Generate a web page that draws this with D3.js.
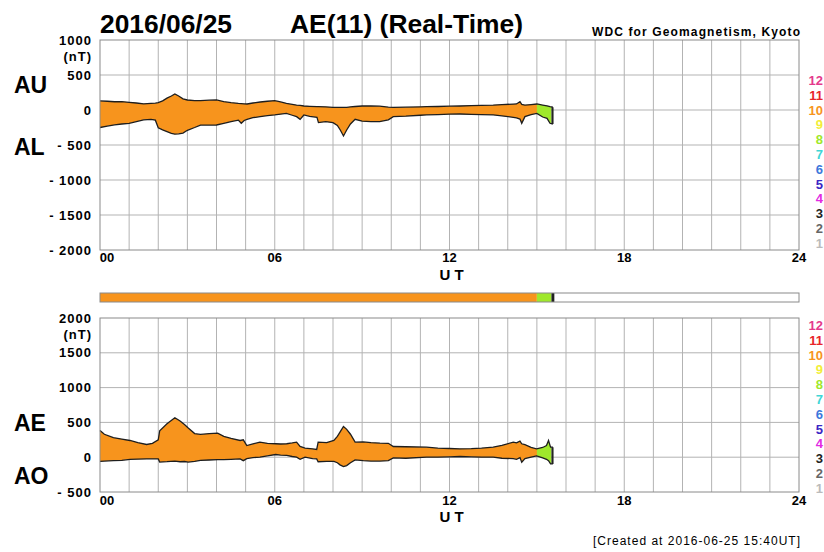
<!DOCTYPE html>
<html>
<head>
<meta charset="utf-8">
<script src="https://cdn.jsdelivr.net/npm/d3@7/dist/d3.min.js"></script>
<style>
  body { margin: 0; background: #fff; }
  svg text { font-family: "Liberation Sans", Arial, Helvetica, sans-serif; }
</style>
</head>
<body>
<svg id="vis" width="824" height="552"></svg>
<script>
// ---- data (hours UT, nT) ----
var hoursTop = [0.00, 0.25, 0.50, 0.75, 1.00, 1.25, 1.50, 1.75, 1.90, 2.00, 2.15, 2.30, 2.45, 2.57, 2.70, 2.85, 3.00, 3.25, 3.45, 3.75,
  4.00, 4.25, 4.50, 4.75, 4.85, 4.95, 5.05, 5.25, 5.50, 5.75, 6.00, 6.20, 6.40, 6.60, 6.75, 6.87, 7.00, 7.20, 7.45, 7.50,
  7.75, 8.00, 8.15, 8.25, 8.36, 8.47, 8.60, 8.76, 9.00, 9.30, 9.60, 9.90, 10.07, 10.50, 11.00, 11.21, 11.60, 12.00, 12.36, 12.75,
  13.10, 13.50, 13.80, 14.19, 14.30, 14.42, 14.48, 14.59, 14.80, 15.00, 15.20, 15.35, 15.45, 15.55];
var auValues = [130, 125, 118, 120, 110, 100, 88, 95, 98, 105, 130, 170, 200, 229, 200, 160, 143, 135, 133, 140,
  143, 120, 105, 95, 92, 88, 86, 100, 114, 125, 133, 115, 95, 80, 70, 65, 57, 52, 48, 48,
  45, 38, 38, 38, 38, 38, 45, 50, 57, 57, 55, 40, 38, 40, 45, 48, 50, 55, 57, 62,
  66, 71, 78, 84, 86, 119, 80, 71, 78, 86, 71, 60, 48, 40];
var alValues = [-250, -230, -212, -200, -190, -165, -140, -135, -145, -255, -285, -310, -335, -345, -340, -330, -290, -250, -215, -215,
  -214, -190, -165, -145, -190, -150, -133, -110, -95, -80, -71, -60, -48, -75, -95, -133, -71, -90, -105, -180,
  -167, -181, -220, -286, -371, -286, -200, -133, -160, -167, -167, -140, -95, -88, -75, -71, -65, -60, -57, -62,
  -66, -71, -85, -105, -112, -130, -190, -95, -65, -48, -100, -119, -190, -200];

var hoursBottom = [0.00, 0.15, 0.46, 0.75, 1.03, 1.30, 1.60, 1.80, 2.00, 2.05, 2.30, 2.57, 2.75, 2.90, 3.03, 3.25, 3.45, 3.75, 4.04, 4.25,
  4.50, 4.81, 4.92, 5.04, 5.25, 5.49, 5.75, 6.03, 6.20, 6.41, 6.60, 6.75, 6.87, 7.04, 7.30, 7.44, 7.49, 7.78, 8.03, 8.15,
  8.24, 8.36, 8.47, 8.60, 8.76, 9.04, 9.30, 9.61, 9.90, 10.07, 10.50, 11.21, 11.60, 12.00, 12.36, 12.75, 13.10, 13.50, 13.80, 14.19,
  14.30, 14.42, 14.48, 14.59, 14.80, 14.99, 15.20, 15.33, 15.40, 15.47, 15.55];
var aeValues = [384, 330, 280, 260, 240, 210, 183, 200, 250, 380, 480, 567, 520, 470, 420, 340, 327, 340, 346, 300,
  270, 240, 250, 168, 190, 216, 200, 193, 190, 193, 205, 216, 154, 130, 120, 111, 216, 210, 240, 300,
  360, 442, 400, 330, 216, 220, 210, 202, 200, 154, 150, 144, 130, 125, 121, 122, 130, 144, 170, 216,
  205, 230, 193, 180, 140, 121, 140, 168, 240, 144, 144];
var aoValues = [-60, -55, -50, -45, -30, -28, -25, -25, -25, -70, -65, -57, -65, -62, -70, -60, -45, -40, -35, -35,
  -30, -25, -50, -20, -5, 0, 20, 39, 30, 25, 10, 0, -30, 0, -20, -25, -65, -60, -60, -80,
  -110, -134, -120, -80, -38, -50, -55, -55, -50, -9, -15, 0, 0, 5, 10, 5, 0, 0, -15, -20,
  -30, -5, -72, -20, 0, 19, -10, -30, -50, -96, -96];

// number of stations used, by time span
var segStart = [0, 15.0, 15.5];
var segEnd = [15.0, 15.5, 15.6];
var segStations = [10, 8, 3];

var stationLevels = [12, 11, 10, 9, 8, 7, 6, 5, 4, 3, 2, 1];
var stationColors = ["#e4398c", "#e8262a", "#f7941d", "#f2ee3a", "#9fe82c", "#3fd6d6", "#3c78dc", "#3a26c4", "#e22ae2", "#222222", "#666666", "#bbbbbb"];

var xTickHours = [0, 6, 12, 18, 24];
var xTickLabels = ["00", "06", "12", "18", "24"];
var topTicks = [1000, 500, 0, -500, -1000, -1500, -2000];
var topTickLabels = ["1000", "500", "0", "- 500", "- 1000", "- 1500", "- 2000"];
var bottomTicks = [2000, 1500, 1000, 500, 0, -500];
var bottomTickLabels = ["2000", "1500", "1000", "500", "0", "- 500"];

// ---- layout ----
var svg = d3.select("svg#vis");
var plot = { left: 100, right: 799 };
var gridColor = "#b3b3b3";
var borderColor = "#8a8a8a";
var lineColor = "#1e1e1e";

var x = d3.scaleLinear().domain([0, 24]).range([plot.left, plot.right]);
var colorOf = d3.scaleOrdinal().domain(stationLevels).range(stationColors);

var segments = segStart.map((s, i) => ({ start: s, end: segEnd[i], n: segStations[i] }));

var panels = [
  {
    id: "top", top: 40, bottom: 250, domain: [-2000, 1000],
    ticks: topTicks, labels: topTickLabels,
    hours: hoursTop, hi: auValues, lo: alValues,
    names: [{ text: "AU", y: 93 }, { text: "AL", y: 155 }],
    axisY: 262, utY: 280
  },
  {
    id: "bottom", top: 318, bottom: 492, domain: [-500, 2000],
    ticks: bottomTicks, labels: bottomTickLabels,
    hours: hoursBottom, hi: aeValues, lo: aoValues,
    names: [{ text: "AE", y: 431 }, { text: "AO", y: 484 }],
    axisY: 505, utY: 522
  }
];

panels.forEach(drawPanel);
drawStatusBar(293, 302);

// titles
svg.append("text").attr("x", 100).attr("y", 33)
  .attr("font-size", 25).attr("font-weight", "bold")
  .attr("textLength", 132).attr("lengthAdjust", "spacingAndGlyphs")
  .text("2016/06/25");
svg.append("text").attr("x", 290).attr("y", 33)
  .attr("font-size", 25).attr("font-weight", "bold")
  .attr("textLength", 233).attr("lengthAdjust", "spacingAndGlyphs")
  .text("AE(11) (Real-Time)");
svg.append("text").attr("x", 592).attr("y", 36)
  .attr("font-size", 12).attr("font-weight", "bold")
  .attr("textLength", 208).attr("lengthAdjust", "spacing")
  .text("WDC for Geomagnetism, Kyoto");
svg.append("text").attr("x", 593).attr("y", 545)
  .attr("font-size", 12)
  .attr("textLength", 207).attr("lengthAdjust", "spacing")
  .text("[Created at 2016-06-25 15:40UT]");


function drawPanel(p) {
  var y = d3.scaleLinear().domain(p.domain).range([p.bottom, p.top]);
  var g = svg.append("g").attr("id", p.id);

  // grid
  g.selectAll("line.vgrid")
    .data(d3.range(1, 24))
    .enter().append("line")
    .attr("class", "vgrid")
    .attr("x1", d => x(d)).attr("x2", d => x(d))
    .attr("y1", p.top).attr("y2", p.bottom)
    .attr("stroke", gridColor).attr("stroke-width", 1);

  g.selectAll("line.hgrid")
    .data(p.ticks.slice(1, -1))
    .enter().append("line")
    .attr("class", "hgrid")
    .attr("x1", plot.left).attr("x2", plot.right)
    .attr("y1", d => y(d)).attr("y2", d => y(d))
    .attr("stroke", gridColor).attr("stroke-width", 1);

  // filled band between the two indices, coloured by station count
  var rows = p.hours.map((h, i) => ({ t: h, hi: p.hi[i], lo: p.lo[i] }));
  var area = d3.area()
    .x(d => x(d.t))
    .y0(d => y(d.lo))
    .y1(d => y(d.hi));

  segments.forEach(function(s, i) {
    var cid = "clip-" + p.id + "-" + i;
    g.append("clipPath").attr("id", cid)
      .append("rect")
      .attr("x", x(s.start)).attr("width", x(s.end) - x(s.start))
      .attr("y", p.top - 20).attr("height", p.bottom - p.top + 40);
    g.append("path")
      .datum(rows)
      .attr("d", area)
      .attr("clip-path", "url(#" + cid + ")")
      .attr("fill", colorOf(s.n));
  });

  g.append("path")
    .datum(rows)
    .attr("d", d3.line().x(d => x(d.t)).y(d => y(d.hi)))
    .attr("fill", "none").attr("stroke", lineColor).attr("stroke-width", 1.3);
  g.append("path")
    .datum(rows)
    .attr("d", d3.line().x(d => x(d.t)).y(d => y(d.lo)))
    .attr("fill", "none").attr("stroke", lineColor).attr("stroke-width", 1.3);
  var last = rows[rows.length - 1];
  g.append("line")
    .attr("x1", x(last.t)).attr("x2", x(last.t))
    .attr("y1", y(last.hi)).attr("y2", y(last.lo))
    .attr("stroke", lineColor).attr("stroke-width", 1.3);

  // frame
  g.append("rect")
    .attr("x", plot.left).attr("y", p.top)
    .attr("width", plot.right - plot.left).attr("height", p.bottom - p.top)
    .attr("fill", "none").attr("stroke", borderColor).attr("stroke-width", 1);

  // y tick labels
  g.selectAll("text.ytick")
    .data(p.ticks)
    .enter().append("text")
    .attr("class", "ytick")
    .attr("x", 92)
    .attr("y", d => y(d))
    .attr("dy", "0.36em")
    .attr("text-anchor", "end")
    .attr("font-size", 13).attr("font-weight", "bold")
    .attr("letter-spacing", 1)
    .text((d, i) => p.labels[i]);

  g.append("text")
    .attr("x", 92).attr("y", p.top + 21)
    .attr("text-anchor", "end")
    .attr("font-size", 13).attr("font-weight", "bold")
    .attr("letter-spacing", 1)
    .text("(nT)");

  // index names
  g.selectAll("text.name")
    .data(p.names)
    .enter().append("text")
    .attr("class", "name")
    .attr("x", 14).attr("y", d => d.y)
    .attr("font-size", 23).attr("font-weight", "bold")
    .text(d => d.text);

  // x tick labels
  g.selectAll("text.xtick")
    .data(xTickHours)
    .enter().append("text")
    .attr("class", "xtick")
    .attr("x", d => x(d) + (d === 0 ? 7 : 0))
    .attr("y", p.axisY)
    .attr("text-anchor", "middle")
    .attr("font-size", 13).attr("font-weight", "bold")
    .text((d, i) => xTickLabels[i]);

  g.append("text")
    .attr("x", x(12) + 2).attr("y", p.utY)
    .attr("text-anchor", "middle")
    .attr("font-size", 15).attr("font-weight", "bold")
    .text("U T");

  // station-count legend
  var legendTop = p.id === "top" ? 85 : 330;
  g.selectAll("text.legend")
    .data(stationLevels)
    .enter().append("text")
    .attr("class", "legend")
    .attr("x", 823)
    .attr("y", (d, i) => legendTop + i * 14.8)
    .attr("text-anchor", "end")
    .attr("font-size", 13).attr("font-weight", "bold")
    .attr("fill", d => colorOf(d))
    .text(d => d);
}

function drawStatusBar(y0, y1) {
  var g = svg.append("g").attr("id", "status");
  g.selectAll("rect.seg")
    .data(segments)
    .enter().append("rect")
    .attr("class", "seg")
    .attr("x", d => x(d.start))
    .attr("width", d => x(d.end) - x(d.start))
    .attr("y", y0).attr("height", y1 - y0)
    .attr("fill", d => colorOf(d.n));
  g.append("rect")
    .attr("x", plot.left).attr("y", y0)
    .attr("width", plot.right - plot.left).attr("height", y1 - y0)
    .attr("fill", "none").attr("stroke", borderColor).attr("stroke-width", 1);
}
</script>
</body>
</html>
